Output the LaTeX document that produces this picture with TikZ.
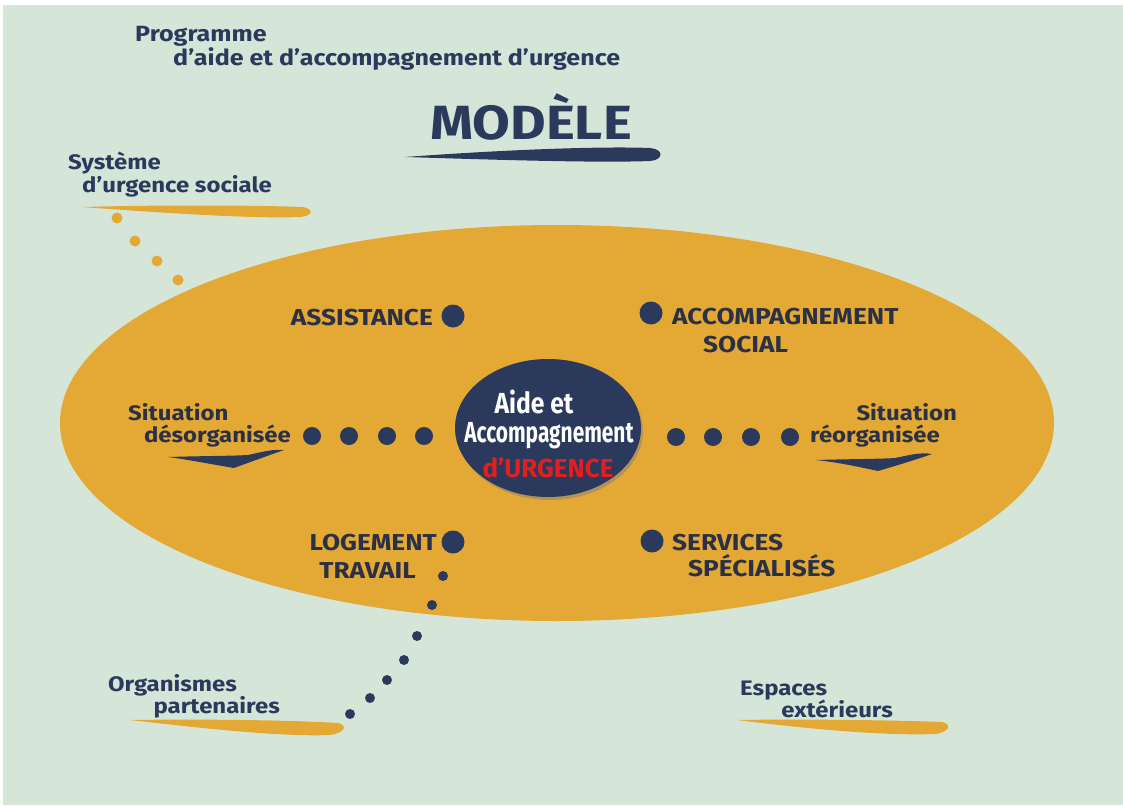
\documentclass[tikz,border=0pt]{standalone}
\usepackage{fontspec}
\setmainfont{Fira Sans}
\newfontfamily\widefont[FakeStretch=1.14,Ligatures=TeX]{Fira Sans}
\newfontfamily\condfont[FakeStretch=0.85,Ligatures=TeX]{Fira Sans}
\newfontfamily\narrowfont[FakeStretch=0.72,Ligatures=TeX]{Fira Sans}
\usepackage{tikz}
\usetikzlibrary{shapes.geometric,shadows}
\definecolor{bg}{HTML}{D5E6D8}
\definecolor{gold}{HTML}{E4A834}
\definecolor{navy}{HTML}{2B3A5C}
\definecolor{ink}{HTML}{2A3045}
\definecolor{urg}{HTML}{E0201E}
\tikzset{
  lab/.style={text=navy, font=\widefont\bfseries\fontsize{21}{23}\selectfont, inner sep=0pt, anchor=base west},
  axis/.style={text=ink, font=\widefont\bfseries\fontsize{23}{25}\selectfont, inner sep=0pt, anchor=base west},
  bigdot/.style={circle, fill=navy, inner sep=0pt, minimum size=23pt},
  rowdot/.style={circle, fill=navy, inner sep=0pt, minimum size=18pt},
  smdot/.style={circle, fill=navy, inner sep=0pt, minimum size=10pt},
  golddot/.style={circle, fill=gold, inner sep=0pt, minimum size=11pt},
  hubtxt/.style={text=white, inner sep=0pt, anchor=base}
}

\begin{document}
\begin{tikzpicture}[x=1pt, y=-1pt]
  \useasboundingbox (0,0) rectangle (1123,805);
  \fill[white] (0,0) rectangle (1123,805);
  \fill[bg] (3,5) rectangle (1123,805);

  % titre
  \node[lab, font=\widefont\bfseries\fontsize{22}{24}\selectfont] (prog) at (135,42) {Programme};
  \node[lab, font=\widefont\bfseries\fontsize{22}{24}\selectfont] (prog2) at (173,66) {d'aide et d'accompagnement d'urgence};
  \node[text=navy, font=\widefont\bfseries\fontsize{48}{50}\selectfont, inner sep=0pt, anchor=base west] (modele) at (430,140) {MODÈLE};
  \fill[navy] (405,157) .. controls (500,150) and (600,146) .. (650,148)
    .. controls (664,149) and (664,160) .. (650,161)
    .. controls (600,163) and (500,160) .. (405,157) -- cycle;

  % système d'urgence sociale
  \node[lab] (sys) at (68,170) {Système};
  \node[lab] (sys2) at (82,192) {d'urgence sociale};
  \fill[gold] (82,207) .. controls (150,205) and (250,205) .. (302,207)
    .. controls (314,208) and (314,216) .. (300,217)
    .. controls (250,219) and (150,212) .. (82,207) -- cycle;
  \foreach \x/\y [count=\i] in {117/218,135/241,157/261,178/280,197/294}
    \node[golddot] (g\i) at (\x,\y) {};

  % grande ellipse
  \fill[gold] (557,423) ellipse [x radius=497, y radius=198];

  % centre
  \node[ellipse, fill=navy, minimum width=186pt, minimum height=138pt,
        drop shadow={shadow xshift=2pt, shadow yshift=-3pt, opacity=0.5}] (hub) at (548,428) {};
  \node[hubtxt, font=\condfont\bfseries\fontsize{29}{31}\selectfont, text depth=0pt] (aide) at (534,413) {Aide et};
  \node[hubtxt, font=\narrowfont\bfseries\fontsize{29}{31}\selectfont, text height=20pt] (acc) at (549,442) {Accompagnement};
  \node[hubtxt, text=urg, font=\bfseries\fontsize{26}{28}\selectfont, text height=18pt] (urgence) at (548,477) {d'URGENCE};

  % quatre axes
  \node[bigdot] (dA) at (453,316) {};
  \node[bigdot] (dB) at (651,313) {};
  \node[bigdot] (dC) at (453,542) {};
  \node[bigdot] (dD) at (652,541) {};
  \node[axis, anchor=base east] (assist) at (433,325) {ASSISTANCE};
  \node[axis] (accsoc) at (672,324) {ACCOMPAGNEMENT};
  \node[axis] (accsoc2) at (703,352) {SOCIAL};
  \node[axis, anchor=base east] (loge) at (437,550) {LOGEMENT};
  \node[axis, anchor=base east] (loge2) at (416,578) {TRAVAIL};
  \node[axis] (serv) at (672,550) {SERVICES};
  \node[axis] (serv2) at (688,576) {SPÉCIALISÉS};

  % situations
  \foreach \x [count=\i] in {312,349,387,424}
    \node[rowdot] (l\i) at (\x,436) {};
  \foreach \x [count=\i] in {676,713,751,790}
    \node[rowdot] (r\i) at (\x,437) {};
  \node[lab, text=ink] (sitL) at (128,420) {Situation};
  \node[lab, text=ink, anchor=base east] (sitL2) at (291,442) {désorganisée};
  \node[lab, text=ink, anchor=base east] (sitR) at (957,420) {Situation};
  \node[lab, text=ink, anchor=base east] (sitR2) at (940,442) {réorganisée};
  \fill[navy] (168,457) .. controls (200,456) and (230,456) .. (248,455)
    .. controls (262,452) and (272,449) .. (284,450)
    .. controls (270,455) and (250,462) .. (234,468)
    .. controls (210,464) and (190,460) .. (168,457) -- cycle;
  \fill[navy] (816,460) .. controls (850,459) and (880,459) .. (895,458)
    .. controls (910,455) and (920,452) .. (932,454)
    .. controls (915,460) and (895,466) .. (878,471)
    .. controls (855,466) and (835,462) .. (816,460) -- cycle;

  % organismes partenaires
  \foreach \x/\y [count=\i] in {443/576,432/605,417/636,404/660,387/680,370/698,350/714}
    \node[smdot] (p\i) at (\x,\y) {};
  \node[lab] (org) at (108,691) {Organismes};
  \node[lab, anchor=base east] (org2) at (280,713) {partenaires};
  \fill[gold] (130,720) .. controls (200,719) and (290,720) .. (338,723)
    .. controls (348,725) and (345,733) .. (330,735)
    .. controls (280,737) and (200,728) .. (130,720) -- cycle;

  % espaces extérieurs
  \node[lab] (esp) at (740,695) {Espaces};
  \node[lab, anchor=base east] (esp2) at (893,717) {extérieurs};
  \fill[gold] (737,720) .. controls (800,719) and (890,720) .. (942,722)
    .. controls (952,724) and (950,732) .. (935,734)
    .. controls (880,736) and (800,728) .. (737,720) -- cycle;
\end{tikzpicture}
\end{document}
